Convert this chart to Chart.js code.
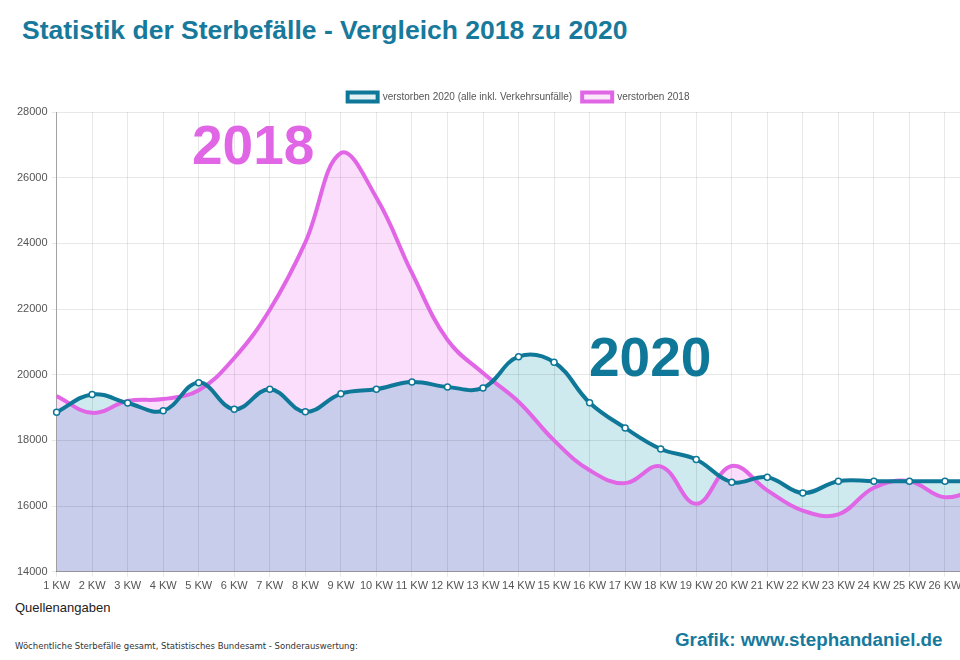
<!DOCTYPE html>
<html>
<head>
<meta charset="utf-8">
<script src="https://cdn.jsdelivr.net/npm/chart.js@4.4.0/dist/chart.umd.min.js"></script>
<style>
  body { margin: 0; width: 960px; height: 660px; overflow: hidden; background: #fff; position: relative; font-family: "Liberation Sans", Arial, sans-serif; }
  #title { position: absolute; left: 22px; top: 15px; font-size: 26.5px; font-weight: bold; color: #17799c; white-space: nowrap; }
  #chartBox { position: absolute; left: 0; top: 82px; width: 1000px; height: 514px; }
  .big { position: absolute; font-size: 55px; font-weight: bold; line-height: 1; }
  #lbl2018 { left: 192px; top: 118px; color: #e066e6; }
  #lbl2020 { left: 589px; top: 330px; color: #0f7899; }
  #quellen { position: absolute; left: 15px; top: 600px; font-size: 13px; color: #222; }
  #source { position: absolute; left: 15px; top: 641px; font-family: "DejaVu Sans", sans-serif; font-size: 8.5px; color: #333; white-space: nowrap; }
  #grafik { position: absolute; left: 675px; top: 629px; font-size: 18.8px; font-weight: bold; color: #17799c; white-space: nowrap; }
</style>
</head>
<body>
<div id="title">Statistik der Sterbefälle - Vergleich 2018 zu 2020</div>
<div id="chartBox"><canvas id="chartContainer1"></canvas></div>
<div class="big" id="lbl2018">2018</div>
<div class="big" id="lbl2020">2020</div>
<div id="quellen">Quellenangaben</div>
<div id="source">Wöchentliche Sterbefälle gesamt, Statistisches Bundesamt - Sonderauswertung:</div>
<div id="grafik">Grafik: www.stephandaniel.de</div>
<script>
var weeks = ["1 KW", "2 KW", "3 KW", "4 KW", "5 KW", "6 KW", "7 KW", "8 KW", "9 KW", "10 KW",
  "11 KW", "12 KW", "13 KW", "14 KW", "15 KW", "16 KW", "17 KW", "18 KW", "19 KW", "20 KW",
  "21 KW", "22 KW", "23 KW", "24 KW", "25 KW", "26 KW", "27 KW"];

var verstorben2020 = [18860, 19400, 19140, 18900, 19760, 18950, 19560, 18870, 19420, 19560,
  19780, 19630, 19600, 20550, 20380, 19150, 18380, 17740, 17420, 16730,
  16880, 16400, 16760, 16760, 16760, 16760, 16760];

var verstorben2018 = [19350, 18840, 19200, 19260, 19530, 20510, 21980, 24030, 26750, 25390,
  23100, 21060, 20050, 19180, 18000, 17090, 16700, 17210, 16070, 17220,
  16480, 15860, 15750, 16560, 16760, 16270, 16600];

var yTicks = [14000, 16000, 18000, 20000, 22000, 24000, 26000, 28000];

var teal = "#0f7899";
var magenta = "#e066e6";

var ctx1 = document.getElementById("chartContainer1").getContext("2d");

var myChart = new Chart(ctx1, {
  type: "line",
  data: {
    labels: weeks,
    datasets: [
      {
        label: "verstorben 2020 (alle inkl. Verkehrsunfälle)",
        data: verstorben2020,
        borderColor: teal,
        backgroundColor: "#e3f1f5",
        borderWidth: 4,
        tension: 0.4,
        pointRadius: 3,
        pointBorderWidth: 1.5,
        pointBackgroundColor: "#fff",
        pointBorderColor: teal,
        fill: { target: 1, above: "#ceeaee", below: "#fbdefb" }
      },
      {
        label: "verstorben 2018",
        data: verstorben2018,
        borderColor: magenta,
        backgroundColor: "#fbe8fb",
        borderWidth: 4,
        tension: 0.4,
        pointRadius: 0,
        fill: { target: "start", above: "#c8cdeb", below: "#c8cdeb" }
      }
    ]
  },
  options: {
    responsive: true,
    maintainAspectRatio: false,
    animation: false,
    layout: { padding: { left: 13, right: 0, top: 0, bottom: 0 } },
    plugins: {
      filler: { drawTime: "beforeDraw" },
      tooltip: { enabled: false },
      legend: {
        fullSize: false,
        labels: {
          boxWidth: 30,
          boxHeight: 9,
          color: "#555",
          font: { family: "Liberation Sans", size: 10 }
        }
      }
    },
    scales: {
      x: {
        grid: { color: "rgba(0,0,0,0.09)", tickLength: 5 },
        border: { color: "rgba(0,0,0,0.3)" },
        ticks: {
          color: "#555",
          font: { family: "Liberation Sans", size: 11 },
          maxRotation: 0,
          autoSkip: false,
          padding: 3
        }
      },
      y: {
        min: 14000,
        max: 28000,
        afterBuildTicks: function(scale) {
          scale.ticks = yTicks.map(function(v) { return { value: v }; });
        },
        grid: { color: "rgba(0,0,0,0.09)", tickLength: 5 },
        border: { color: "rgba(0,0,0,0.3)" },
        ticks: {
          color: "#555",
          font: { family: "Liberation Sans", size: 11 },
          padding: 4,
          callback: function(v) { return v; }
        }
      }
    }
  }
});
</script>
</body>
</html>
